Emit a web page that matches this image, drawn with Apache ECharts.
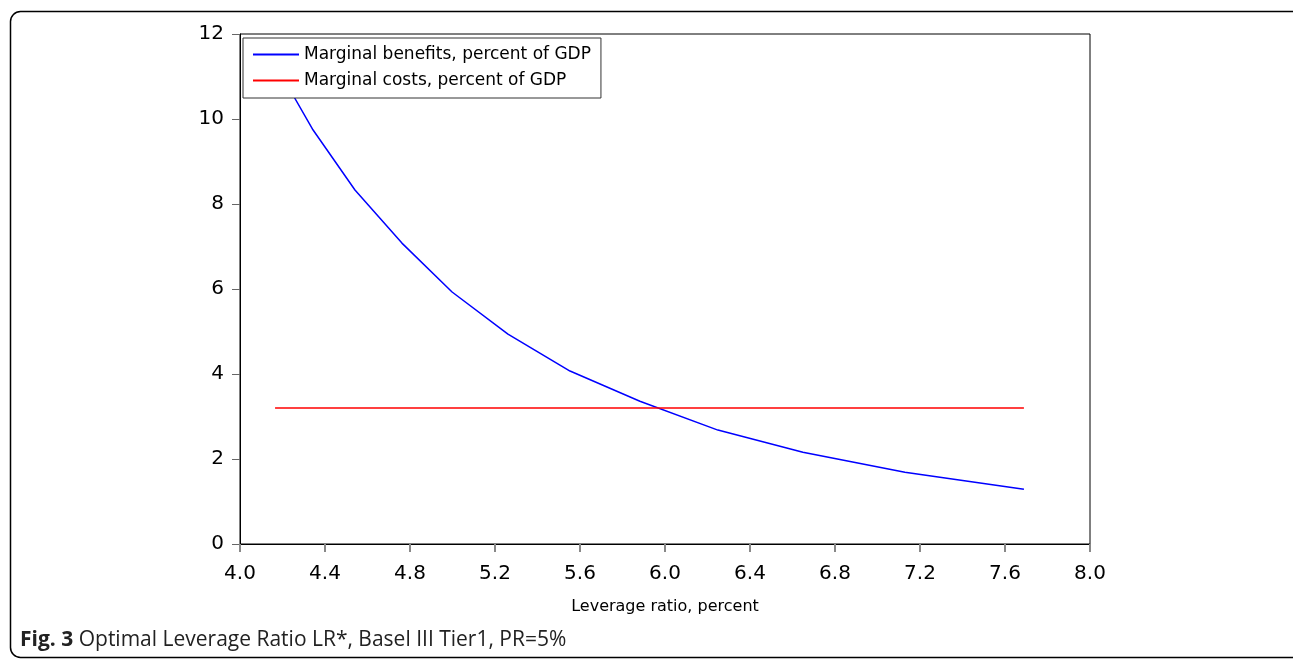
<!DOCTYPE html>
<html>
<head>
<meta charset="utf-8">
<script src="https://cdn.jsdelivr.net/npm/echarts@6/dist/echarts.min.js"></script>
<style>
html,body{margin:0;padding:0;background:#fff;}
#chart{width:1293px;height:661px;}
</style>
</head>
<body>
<div id="chart"></div>
<script>
// Marginal benefits curve (leverage ratio %, percent of GDP)
var benefitX = [4.165, 4.344, 4.541, 4.762, 4.998, 5.261, 5.553, 5.882, 6.249, 6.649, 7.129, 7.689];
var benefitY = [11.30, 9.74, 8.33, 7.08, 5.93, 4.94, 4.07, 3.36, 2.68, 2.16, 1.69, 1.29];
// Marginal costs (flat)
var costX = [4.165, 7.689];
var costY = [3.2, 3.2];
var seriesNames = ['Marginal benefits, percent of GDP', 'Marginal costs, percent of GDP'];
var xTicks = [4.0, 4.4, 4.8, 5.2, 5.6, 6.0, 6.4, 6.8, 7.2, 7.6, 8.0];
var yTicks = [0, 2, 4, 6, 8, 10, 12];

function pairs(xs, ys){ return xs.map(function(x,i){ return [x, ys[i]]; }); }

var chart = echarts.init(document.getElementById('chart'));
var font = '"DejaVu Sans", "Liberation Sans", Arial, sans-serif';
chart.setOption({
  animation: false,
  backgroundColor: '#fff',
  grid: { left: 240, right: 203, top: 34, bottom: 117, show: true, borderColor: '#000', borderWidth: 1, backgroundColor: 'transparent' },
  legend: {
    left: 243, top: 38, orient: 'vertical',
    backgroundColor: '#fff', borderColor: '#333', borderWidth: 1,
    padding: [8, 10, 9, 10], itemGap: 9,
    itemWidth: 46, itemHeight: 2, icon: 'rect',
    textStyle: { fontFamily: font, fontSize: 17, color: '#000' },
    data: seriesNames
  },
  xAxis: {
    type: 'value', min: xTicks[0], max: xTicks[xTicks.length-1], interval: 0.4,
    name: 'Leverage ratio, percent', nameLocation: 'middle', nameGap: 55,
    nameTextStyle: { fontFamily: font, fontSize: 16, color: '#000' },
    axisLine: { lineStyle: { color: '#000', width: 1 } },
    axisTick: { show: true, length: 8, lineStyle: { color: '#888', width: 2 } },
    axisLabel: { fontFamily: font, fontSize: 20, color: '#000', margin: 20,
      formatter: function(v){ return v.toFixed(1); } },
    splitLine: { show: false }
  },
  yAxis: {
    type: 'value', min: yTicks[0], max: yTicks[yTicks.length-1], interval: 2,
    axisLine: { show: true, lineStyle: { color: '#000', width: 1 } },
    axisTick: { show: true, length: 8, lineStyle: { color: '#666', width: 1 } },
    axisLabel: { fontFamily: font, fontSize: 20, color: '#000', margin: 16 },
    splitLine: { show: false }
  },
  series: [
    { name: seriesNames[0], type: 'line', data: pairs(benefitX, benefitY), showSymbol: false, symbol: 'none',
      lineStyle: { color: '#0000ff', width: 1.5 }, itemStyle: { color: '#0000ff' } },
    { name: seriesNames[1], type: 'line', data: pairs(costX, costY), showSymbol: false, symbol: 'none',
      lineStyle: { color: '#ff0000', width: 1.5 }, itemStyle: { color: '#ff0000' } }
  ],
  graphic: [
    { type: 'rect', left: 8, top: 9, shape: { x: 0, y: 0, width: 1295, height: 646, r: 10 },
      style: { fill: 'none', stroke: '#000', lineWidth: 1.5 }, z: -1 },
    { type: 'text', left: 20, top: 630,
      style: { text: '{b|Fig. 3} Optimal Leverage Ratio LR*, Basel III Tier1, PR=5%',
        font: '21px "Open Sans", sans-serif', fill: '#222',
        rich: { b: { fontWeight: 'bold', fontFamily: '"Open Sans", sans-serif', fontSize: 21, fill: '#222' } } } }
  ]
});
</script>
</body>
</html>
